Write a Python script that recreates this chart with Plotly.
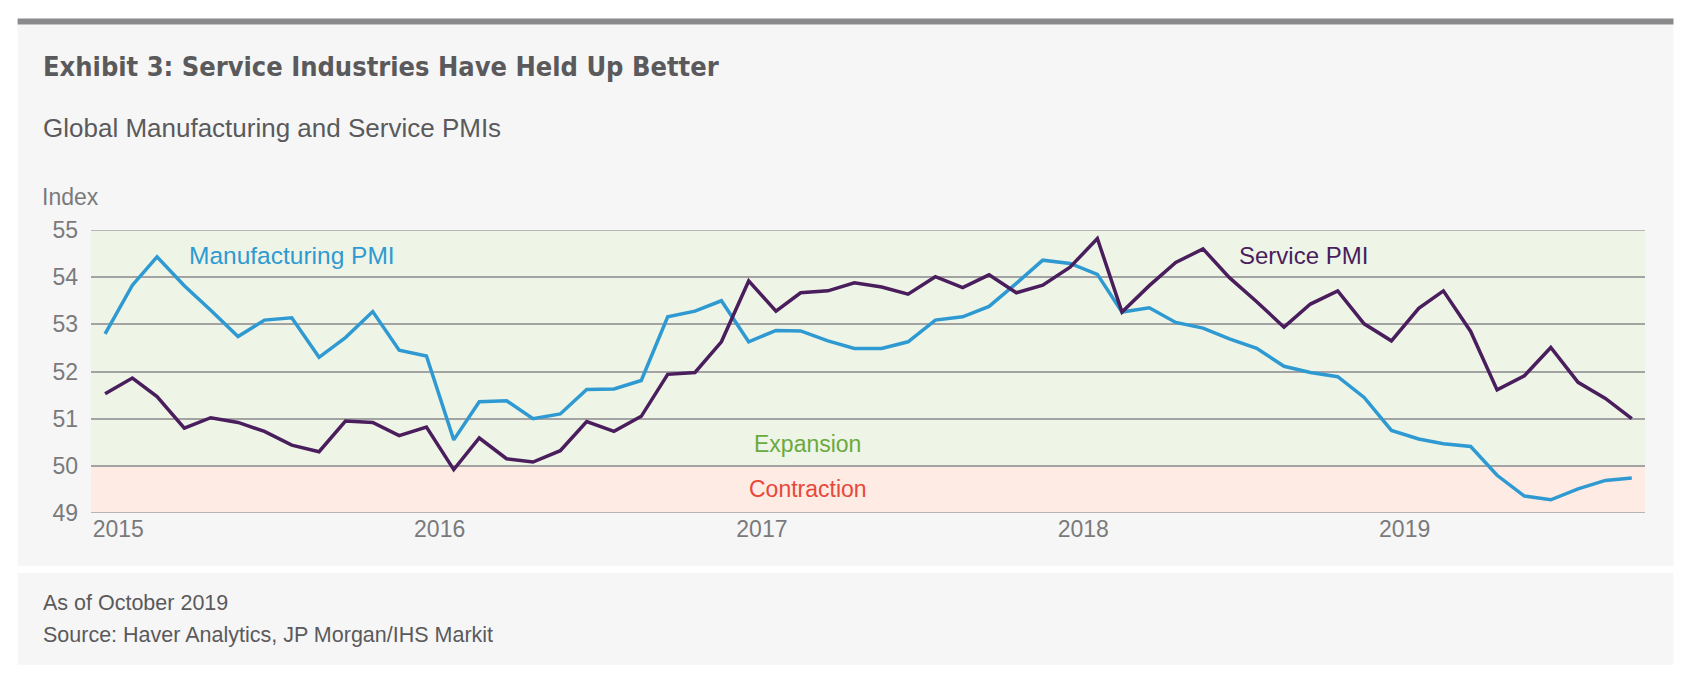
import pandas as pd
import plotly.graph_objects as go

months = pd.date_range("2015-01-01", "2019-10-01", freq="MS")

manufacturing_pmi = [
    52.80, 53.83, 54.43, 53.82, 53.30, 52.74, 53.09, 53.14, 52.30, 52.72, 53.27, 52.45,
    52.33, 50.55, 51.36, 51.38, 51.00, 51.10, 51.62, 51.63, 51.81, 53.16, 53.28, 53.50,
    52.63, 52.87, 52.86, 52.65, 52.49, 52.49, 52.63, 53.09, 53.16, 53.38, 53.87, 54.36,
    54.29, 54.06, 53.26, 53.35, 53.04, 52.92, 52.69, 52.49, 52.11, 51.98, 51.89, 51.45,
    50.75, 50.57, 50.47, 50.41, 49.80, 49.36, 49.28, 49.51, 49.69, 49.74,
]
service_pmi = [
    51.53, 51.86, 51.47, 50.80, 51.02, 50.92, 50.73, 50.44, 50.30, 50.95, 50.92, 50.64,
    50.82, 49.92, 50.59, 50.15, 50.08, 50.32, 50.94, 50.73, 51.05, 51.94, 51.98, 52.63,
    53.92, 53.28, 53.67, 53.71, 53.88, 53.79, 53.64, 54.01, 53.78, 54.05, 53.67, 53.83,
    54.21, 54.82, 53.26, 53.82, 54.31, 54.60, 53.99, 53.48, 52.94, 53.43, 53.71, 53.01,
    52.65, 53.34, 53.71, 52.85, 51.61, 51.91, 52.51, 51.77, 51.43, 51.00,
]
year_ticks = ["2015-01-16", "2016-01-16", "2017-01-16", "2018-01-16", "2019-01-16"]
year_labels = ["2015", "2016", "2017", "2018", "2019"]
y_ticks = [49, 50, 51, 52, 53, 54, 55]

W, H = 1682, 676
L, R, T, B = 83.4, 1637.5, 221.7, 505.0


def px(x):
    return (x - L) / (R - L)


def py(y):
    return (B - y) / (B - T)


BLUE = "#2F9AD2"
PURPLE = "#4A1E5C"
PANEL = "#F6F6F6"
TXT = "#5A5A5C"
GRID = "#A3A3A3"
BODY = "Liberation Sans, Arial, sans-serif"

fig = go.Figure()
fig.add_trace(go.Scatter(x=months, y=manufacturing_pmi, mode="lines",
                         line=dict(color=BLUE, width=3.5), name="Manufacturing PMI"))
fig.add_trace(go.Scatter(x=months, y=service_pmi, mode="lines",
                         line=dict(color=PURPLE, width=3.5), name="Service PMI"))

shapes = [
    # panels
    dict(type="rect", xref="paper", yref="paper", x0=px(10), x1=px(1666), y0=py(16), y1=py(558),
         fillcolor=PANEL, line=dict(width=0), layer="below"),
    dict(type="rect", xref="paper", yref="paper", x0=px(10), x1=px(1666), y0=py(565), y1=py(657),
         fillcolor=PANEL, line=dict(width=0), layer="below"),
    dict(type="rect", xref="paper", yref="paper", x0=px(10), x1=px(1666), y0=py(10), y1=py(16),
         fillcolor="#8A8A8C", line=dict(width=0), layer="below"),
    # bands
    dict(type="rect", xref="paper", yref="y", x0=0, x1=1, y0=50, y1=55,
         fillcolor="#EEF5E7", line=dict(width=0), layer="below"),
    dict(type="rect", xref="paper", yref="y", x0=0, x1=1, y0=49, y1=50,
         fillcolor="#FDEBE4", line=dict(width=0), layer="below"),
    # edge grid lines
    dict(type="line", xref="paper", yref="y", x0=0, x1=1, y0=55, y1=55,
         line=dict(color=GRID, width=1.5), layer="below"),
    dict(type="line", xref="paper", yref="y", x0=0, x1=1, y0=49, y1=49,
         line=dict(color=GRID, width=1.5), layer="below"),
]

annotations = [
    dict(text="<b>Exhibit 3: Service Industries Have Held Up Better</b>", x=px(33), y=py(58),
         xanchor="left", yanchor="middle",
         font=dict(family="DejaVu Sans Condensed", size=27, color=TXT)),
    dict(text="Global Manufacturing and Service PMIs", x=px(33), y=py(120),
         xanchor="left", yanchor="middle", font=dict(family=BODY, size=26, color=TXT)),
    dict(text="Index", x=px(32), y=py(189), xanchor="left", yanchor="middle",
         font=dict(family=BODY, size=23, color="#7A7A7C")),
    dict(text="Manufacturing PMI", x=px(284), y=py(247), xanchor="center", yanchor="middle",
         font=dict(family=BODY, size=24.5, color=BLUE)),
    dict(text="Service PMI", x=px(1296), y=py(247), xanchor="center", yanchor="middle",
         font=dict(family=BODY, size=24, color=PURPLE)),
    dict(text="Expansion", x=px(800), y=py(436), xanchor="center", yanchor="middle",
         font=dict(family=BODY, size=23, color="#6BAA3E")),
    dict(text="Contraction", x=px(800), y=py(481), xanchor="center", yanchor="middle",
         font=dict(family=BODY, size=23, color="#E8483A")),
    dict(text="As of October 2019", x=px(33), y=py(595), xanchor="left", yanchor="middle",
         font=dict(family=BODY, size=21.5, color=TXT)),
    dict(text="Source: Haver Analytics, JP Morgan/IHS Markit", x=px(33), y=py(627),
         xanchor="left", yanchor="middle", font=dict(family=BODY, size=21.5, color=TXT)),
]
for a in annotations:
    a.update(xref="paper", yref="paper", showarrow=False)

fig.update_layout(
    width=W, height=H, autosize=False,
    margin=dict(l=L, r=W - R, t=T, b=H - B, pad=0),
    paper_bgcolor="white", plot_bgcolor="rgba(0,0,0,0)",
    showlegend=False, shapes=shapes, annotations=annotations,
    xaxis=dict(type="date", range=["2014-12-16", "2019-10-16"], tickmode="array",
               tickvals=year_ticks, ticktext=year_labels, showgrid=False, zeroline=False,
               showline=False, ticks="", tickfont=dict(family=BODY, size=23, color="#7A7A7C")),
    yaxis=dict(range=[49, 55], tickmode="array", tickvals=y_ticks, showgrid=True,
               gridcolor=GRID, gridwidth=1.5, zeroline=False, showline=False, ticks="",
               ticklabelstandoff=12, tickfont=dict(family=BODY, size=23, color="#7A7A7C")),
)

fig.write_html("out.html")
